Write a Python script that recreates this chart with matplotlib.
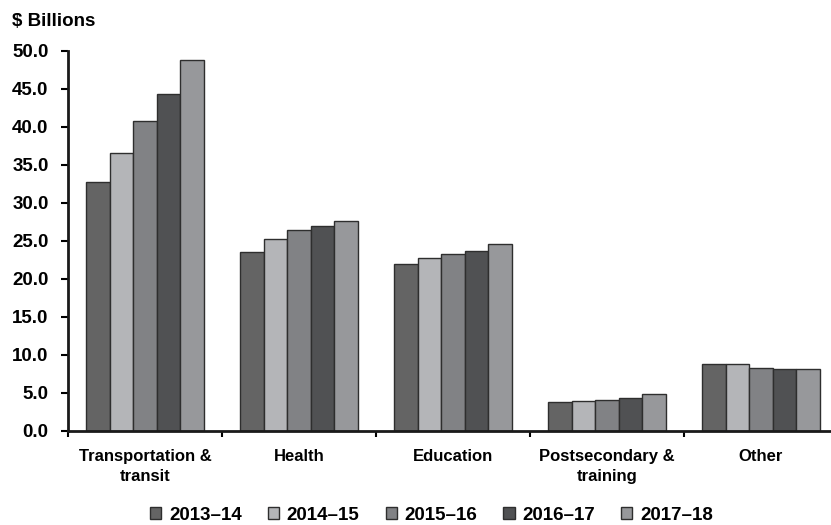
import numpy as np
from matplotlib import pyplot as plt
from matplotlib.ticker import FixedLocator

plt.rcParams['font.family'] = ['Liberation Sans', 'DejaVu Sans']
plt.rcParams['font.weight'] = 'bold'

# ----------------------------------------------------------------------------
categories = ["Transportation &\ntransit", "Health", "Education",
              "Postsecondary &\ntraining", "Other"]
years = ["2013\u201314", "2014\u201315", "2015\u201316", "2016\u201317", "2017\u201318"]

v2013 = [32.7, 23.5, 22.0, 3.8, 8.8]
v2014 = [36.6, 25.2, 22.8, 3.9, 8.8]
v2015 = [40.8, 26.4, 23.3, 4.0, 8.2]
v2016 = [44.4, 26.9, 23.7, 4.3, 8.1]
v2017 = [48.8, 27.6, 24.6, 4.8, 8.1]

series = [v2013, v2014, v2015, v2016, v2017]
colors = ["#646464", "#b4b5b8", "#818285", "#505153", "#97989b"]

# ----------------------------------------------------------------------------

fig = plt.figure(figsize=(8.31, 5.25), dpi=100)
ax = fig.add_axes([68 / 831, (525 - 430.7) / 525, 770 / 831, (430.7 - 51) / 525])

x = np.arange(len(categories))
width = 0.153
for i, (vals, col) in enumerate(zip(series, colors)):
    ax.bar(x + (i - 2) * width, vals, width, color=col, edgecolor="#2e2e2e",
           linewidth=1.0, label=years[i])

ax.set_xlim(-0.5, 4.5)
ax.set_ylim(0, 50)
ax.set_yticks(np.arange(0, 50.1, 5))
ax.set_yticklabels(["%.1f" % v for v in np.arange(0, 50.1, 5)], fontsize=13.5)
ax.set_xticks(x)
ax.set_xticklabels(categories, fontsize=12, linespacing=1.4)
ax.xaxis.set_minor_locator(FixedLocator(np.arange(-0.5, 4.6, 1.0)))
ax.tick_params(axis="x", which="major", length=0, pad=13)
ax.tick_params(axis="x", which="minor", length=4.5, width=1.5, direction="out")
ax.tick_params(axis="y", length=5, width=1.5, direction="out", pad=9)

for s in ["top", "right"]:
    ax.spines[s].set_visible(False)
for s in ["left", "bottom"]:
    ax.spines[s].set_linewidth(2)
    ax.spines[s].set_color("#1a1a1a")

fig.text(12 / 831, 1 - 21 / 525, "$ Billions", fontsize=13.5, va="center", ha="left")

fig.legend(loc="center", bbox_to_anchor=(431.5 / 831, 1 - 515 / 525), ncol=5, frameon=False,
           fontsize=13.5, handlelength=0.6, handleheight=0.6, handletextpad=0.4,
           columnspacing=1.4, borderaxespad=0)

fig.savefig("out.png", dpi=100)
